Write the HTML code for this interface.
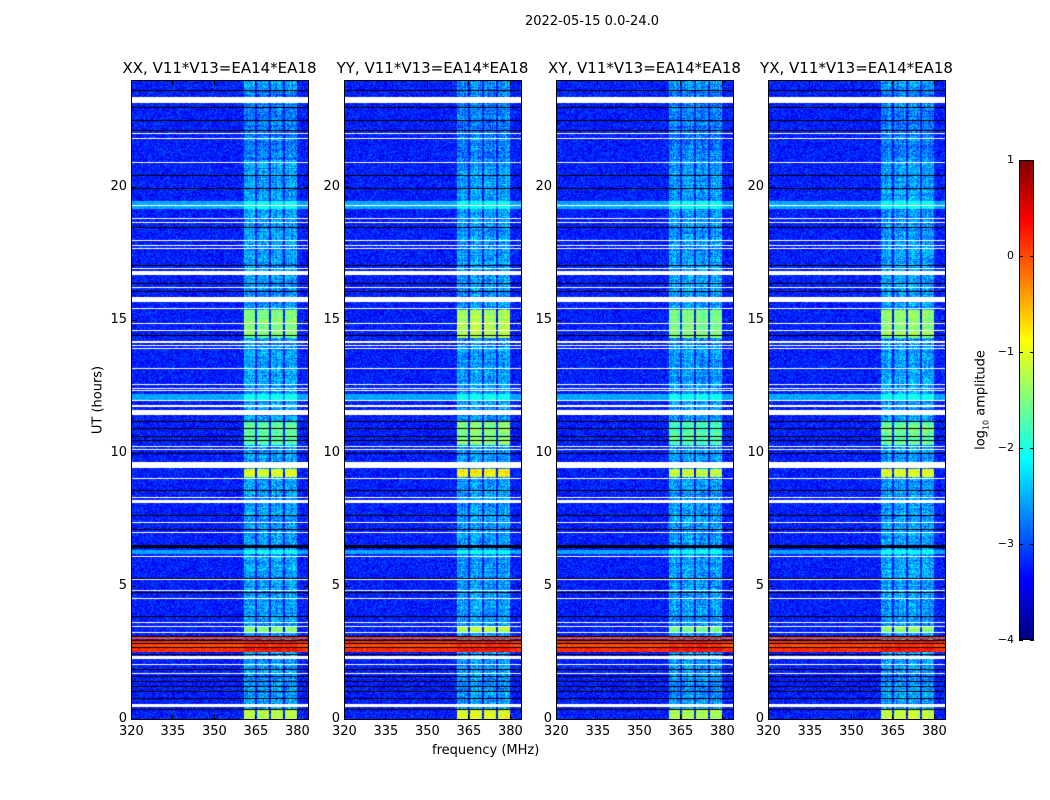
<!DOCTYPE html>
<html><head><meta charset="utf-8">
<style>
body{margin:0;background:#fff;width:1050px;height:800px;position:relative;overflow:hidden;font-family:"DejaVu Sans","Liberation Sans",sans-serif;color:#000}
.abs{position:absolute}
canvas{position:absolute}
.panel{position:absolute;border:1px solid #000;box-sizing:border-box}
.t{position:absolute;font-size:13px;white-space:nowrap}
.title{position:absolute;font-size:15px;white-space:nowrap;transform:translateX(-50%)}
.tick{position:absolute;background:#000}
</style></head>
<body>
<div class="t" style="left:525px;top:14px">2022-05-15 0.0-24.0</div>
<div class="t" style="left:98px;top:400px;transform:translate(-50%,-50%) rotate(-90deg)">UT (hours)</div>
<div class="t" style="left:432px;top:743px">frequency (MHz)</div>
<div id="root"></div>
<div class="abs" style="left:1019px;top:160px;width:15px;height:480px;border:1px solid #000;box-sizing:border-box;background:linear-gradient(to top,#00007f 0%,#0000ff 12.5%,#007fff 25%,#00ffff 37.5%,#7fff7f 50%,#ffff00 62.5%,#ff7f00 75%,#ff0000 87.5%,#7f0000 100%)"></div>
<div class="t" style="left:982px;top:400px;transform:translate(-50%,-50%) rotate(-90deg)">log<sub style="font-size:8px">10</sub> amplitude</div>
<div id="cbt"></div>
<script>
// ---- data ----
const panelTitles=["XX, V11*V13=EA14*EA18","YY, V11*V13=EA14*EA18","XY, V11*V13=EA14*EA18","YX, V11*V13=EA14*EA18"];
const xTicks=[320,335,350,365,380];
const yTicks=[0,5,10,15,20];
const cbTicks=[1,0,-1,-2,-3,-4];
const bands=[[361,365],[365.6,370],[370.6,375],[375.6,380]];
const baseLevel=-3.25;
const bandLevel=-2.6;
const panelBoost=[0,0.25,0,0.1];
// [hourStart, hourEnd, kind]
const flagged=[[23.13,23.35],[21.96,22.0],[21.77,21.81],[20.87,20.91],[19.4,19.43],[19.28,19.31],[18.77,18.81],[18.64,18.68],[17.95,17.99],[17.77,17.81],[17.64,17.68],[16.91,16.95],[16.66,16.81],[16.18,16.22],[15.66,15.85],[15.39,15.43],[14.84,14.88],[14.58,14.62],[14.14,14.18],[14.01,14.05],[13.91,13.95],[13.16,13.2],[12.54,12.58],[12.41,12.45],[12.33,12.37],[11.96,11.99],[11.7,11.78],[11.4,11.62],[10.22,10.26],[10.11,10.15],[9.43,9.66],[9.02,9.06],[8.3,8.34],[8.1,8.22],[7.35,7.39],[6.98,7.02],[6.07,6.11],[5.22,5.26],[4.79,4.83],[4.5,4.54],[3.59,3.63],[3.47,3.51],[3.22,3.26],[2.24,2.36],[2.01,2.05],[1.69,1.73],[0.44,0.56]];
const darkRows=[[23.58,23.62],[22.96,23.0],[22.46,22.5],[22.08,22.12],[20.39,20.43],[19.92,19.96],[18.45,18.49],[17.01,17.05],[16.33,16.37],[16.04,16.08],[14.38,14.42],[11.14,11.18],[10.88,10.92],[10.58,10.62],[10.45,10.49],[9.95,9.99],[8.57,8.61],[7.63,7.67],[7.11,7.15],[6.41,6.53],[5.27,5.31],[4.72,4.76],[3.84,3.88],[1.84,1.88],[1.57,1.61],[1.38,1.42],[1.19,1.23],[1.01,1.05],[0.76,0.8],[0.32,0.36]];
const fullRows=[[19.17,19.47,-2.55],[11.97,12.2,-2.55],[6.2,6.35,-2.55],[3.0,3.09,0.0],[2.87,2.93,0.15],[2.72,2.8,0.0],[2.5,2.66,0.15]];
const darkRed=[[3.09,3.13],[2.93,2.97],[2.8,2.84],[2.66,2.7],[2.4,2.46]];
const bandRows=[[21.0,23.6,-2.75],[14.3,15.35,-1.5],[10.3,11.2,-1.7],[9.1,9.4,-1.1],[3.25,3.45,-1.5],[0.0,0.32,-1.2]];
// ---- helpers ----
const P={x:[131,344,556,768],y:80,w:177,h:639};
const fMin=320,fMax=384,hMin=0,hMax=24;
function xs(f){return (f-fMin)/(fMax-fMin)*P.w}
function ys(h){return P.h-(h-hMin)/(hMax-hMin)*P.h}
function jet(v){let t=(v+4)/5;t=Math.max(0,Math.min(1,t));
 const r=Math.min(1,Math.max(0,1.5-Math.abs(4*t-3))),g=Math.min(1,Math.max(0,1.5-Math.abs(4*t-2))),b=Math.min(1,Math.max(0,1.5-Math.abs(4*t-1)));
 return [r*255,g*255,b*255]}
function hash(a,b,c){let n=a*374761393+b*668265263+c*2147483647;n=(n^(n>>>13))*1274126177;n=n^(n>>>16);return ((n>>>0)%10000)/10000}
function inR(h,arr){for(const r of arr){if(h>=r[0]&&h<=r[1])return r}return null}
const root=document.getElementById('root');
panelTitles.forEach((title,pi)=>{
 const x0=P.x[pi];
 const cv=document.createElement('canvas');cv.width=P.w;cv.height=P.h;cv.style.left=x0+'px';cv.style.top=P.y+'px';
 
 
 root.appendChild(cv);
 const ctx=cv.getContext('2d');const img=ctx.createImageData(P.w,P.h);const d=img.data;
 for(let py=0;py<P.h;py++){
  const h=hMax-(py+0.5)/P.h*(hMax-hMin);
  const fl=inR(h,flagged),dk=inR(h,darkRows),dr=inR(h,darkRed),fr=inR(h,fullRows),br=inR(h,bandRows);
  const rowN=(hash(py,7,pi)-0.5)*0.5;
  for(let px=0;px<P.w;px++){
   const f=fMin+(px+0.5)/P.w*(fMax-fMin);
   let col;
   if(fl){col=[255,255,255]}
   else if(dk||dr){col=[0,0,0]}
   else{
    let inb=false;for(const b of bands){if(f>=b[0]&&f<=b[1])inb=true}
    const n=(hash(px,py,pi)-0.5)*0.7;
    const colN=(hash(px,3,pi)-0.5)*0.3;
    let v;
    if(fr){v=fr[2]+n*0.5+(inb&&fr[2]<-1?0.5:0)+(fr[2]>-1&&inb?0.15:0)}
    else if(inb){const bright=br&&br[2]>-2;v=(br?br[2]:bandLevel)+(bright?panelBoost[pi]:0)+n*(bright?0.6:1.3)+colN+rowN*0.6}
    else{v=baseLevel+n}
    col=jet(v)}
   const k=(py*P.w+px)*4;d[k]=col[0];d[k+1]=col[1];d[k+2]=col[2];d[k+3]=255}
 }
 ctx.putImageData(img,0,0);
 const fr=document.createElement('div');fr.className='panel';fr.style.cssText=`left:${x0}px;top:${P.y}px;width:${P.w+1}px;height:${P.h+1}px`;
 
 
 root.appendChild(fr);
 const t=document.createElement('div');t.className='title';t.textContent=title;t.style.left=(x0+P.w/2)+'px';t.style.top='59px';
 
 
 root.appendChild(t);
 xTicks.forEach(v=>{const x=x0+xs(v);
  [P.y,P.y+P.h-4].forEach(yy=>{const tk=document.createElement('div');tk.className='tick';tk.style.cssText=`left:${x}px;top:${yy}px;width:1px;height:5px`;
   
   
   root.appendChild(tk)});
  const l=document.createElement('div');l.className='t';l.textContent=v;l.style.left=(x-12)+'px';l.style.top=(P.y+P.h+5)+'px';l.style.width='24px';l.style.textAlign='center';
  
  
  root.appendChild(l)});
 yTicks.forEach(v=>{const y=P.y+ys(v);
  [x0,x0+P.w-4].forEach(xx=>{const tk=document.createElement('div');tk.className='tick';tk.style.cssText=`left:${xx}px;top:${y}px;width:5px;height:1px`;
   
   
   root.appendChild(tk)});
  const l=document.createElement('div');l.className='t';l.textContent=v;l.style.left=(x0-40)+'px';l.style.top=(y-8)+'px';l.style.width='36px';l.style.textAlign='right';
  
  
  root.appendChild(l)});
});
const cb=document.getElementById('cbt');
cbTicks.forEach(v=>{const y=160+(1-v)/5*480;
 const l=document.createElement('div');l.className='t';l.style.fontSize='11px';l.textContent=v<0?'\u2212'+(-v):v;l.style.left='985px';l.style.width='29px';l.style.textAlign='right';l.style.top=(y-7)+'px';
 
 
 cb.appendChild(l);
 [1019,1030].forEach(xx=>{const tk=document.createElement('div');tk.className='tick';tk.style.cssText=`left:${xx}px;top:${y}px;width:4px;height:1px`;
  
  
  cb.appendChild(tk)});
});
</script>
</body></html>
